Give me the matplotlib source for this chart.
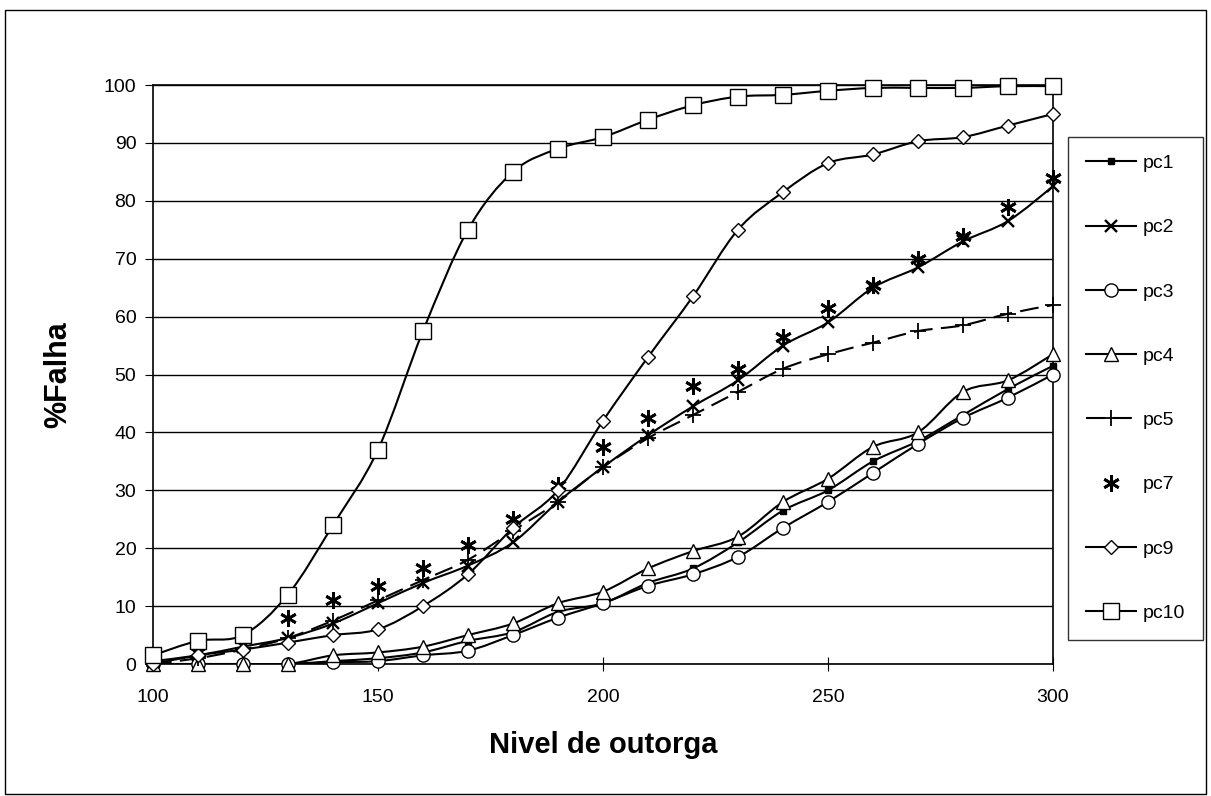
import matplotlib
matplotlib.use("Agg")
import matplotlib.pyplot as plt
from matplotlib.path import Path
from matplotlib.patches import PathPatch, Rectangle
from matplotlib.lines import Line2D
import numpy as np

plt.rcParams['font.family'] = ['Liberation Sans', 'DejaVu Sans']

nivel = [100, 110, 120, 130, 140, 150, 160, 170, 180, 190, 200,
         210, 220, 230, 240, 250, 260, 270, 280, 290, 300]

pc1 = [0, 0, 0, 0, 0.5, 1, 2, 4, 5.5, 9, 10.5,
       14, 16.5, 21, 26.5, 30, 35, 38.5, 43, 47.5, 51.5]
pc2 = [0.5, 1.5, 3, 4.5, 7, 10.5, 14, 17, 21, 28, 34,
       39.5, 44.5, 49, 55, 59, 65, 68.5, 73, 76.5, 82.5]
pc3 = [0, 0, 0, 0, 0.3, 0.5, 1.5, 2.3, 5, 8, 10.5,
       13.5, 15.5, 18.5, 23.5, 28, 33, 38, 42.5, 46, 50]
pc4 = [0, 0, 0, 0, 1.5, 2, 3, 5, 7, 10.5, 12.5,
       16.5, 19.5, 22, 28, 32, 37.5, 40, 47, 49, 53.5]
pc5 = [0, 1, 2.5, 4.5, 7.5, 11, 14.5, 18, 23, 28, 34,
       39, 43, 47, 51, 53.5, 55.5, 57.5, 58.5, 60.5, 62]
pc7 = [1, 2, 4.5, 8, 11, 13.5, 16.5, 20.5, 25, 31, 37.5,
       42.5, 48, 51, 56.5, 61.5, 65.5, 70, 74, 79, 84]
pc9 = [0, 1.5, 2.5, 3.7, 5, 6, 10, 15.5, 23.5, 30, 42,
       53, 63.5, 75, 81.5, 86.5, 88, 90.3, 91, 93, 95]
pc10 = [1.5, 4, 5, 12, 24, 37, 57.5, 75, 85, 89, 91,
        94, 96.5, 98, 98.3, 99, 99.5, 99.5, 99.5, 99.8, 99.8]


def curva_suave(x, y):
    # curva tipo "suavizada" do Excel (Bezier cubica)
    p = np.column_stack([x, y]).astype(float)
    n = len(p)
    verts = [p[0]]
    codes = [Path.MOVETO]
    for i in range(n - 1):
        p0 = p[i - 1] if i > 0 else p[i]
        p1 = p[i]
        p2 = p[i + 1]
        p3 = p[i + 2] if i + 2 < n else p[i + 1]
        verts += [p1 + (p2 - p0) / 6, p2 - (p3 - p1) / 6, p2]
        codes += [Path.CURVE4] * 3
    return Path(verts, codes)


fig = plt.figure(figsize=(12.11, 7.96), dpi=100)
ax = fig.add_axes([0.1263, 0.1658, 0.7432, 0.7274])

lw = 1.5
series = [
    ('pc1', pc1, dict(marker='s', markersize=4, markerfacecolor='black'), '-'),
    ('pc2', pc2, dict(marker='x', markersize=9, markeredgewidth=1.7), '-'),
    ('pc3', pc3, dict(marker='o', markersize=9.5, markerfacecolor='white'), '-'),
    ('pc4', pc4, dict(marker='^', markersize=10, markerfacecolor='white'), '-'),
    ('pc5', pc5, dict(marker='+', markersize=11, markeredgewidth=1.3), (0, (9, 4))),
    ('pc7', pc7, dict(marker=(6, 2, 0), markersize=12, markeredgewidth=2.0), None),
    ('pc9', pc9, dict(marker='D', markersize=7, markerfacecolor='white'), '-'),
    ('pc10', pc10, dict(marker='s', markersize=11, markerfacecolor='white'), '-'),
]

handles = []
for nome, vals, mk, ls in series:
    if ls is not None:
        ax.add_patch(PathPatch(curva_suave(nivel, vals), facecolor='none',
                               edgecolor='black', lw=lw, linestyle=ls, zorder=3))
    ax.plot(nivel, vals, linestyle='none', color='black',
            markeredgecolor='black', zorder=4, clip_on=False, **mk)
    handles.append(Line2D([], [], color='black', lw=lw,
                          linestyle=ls if ls is not None else 'none',
                          markeredgecolor='black', label=nome, **mk))

ax.set_xlim(100, 300)
ax.set_ylim(0, 100)
ax.set_xticks([100, 150, 200, 250, 300])
ax.set_yticks(range(0, 101, 10))
ax.yaxis.grid(True, color='black', lw=1.0)
ax.set_axisbelow(True)
for s in ax.spines.values():
    s.set_color('black')
    s.set_linewidth(1.2)
ax.tick_params(axis='y', direction='out', length=6, pad=6, labelsize=14)
ax.tick_params(axis='x', direction='inout', length=10, pad=13, labelsize=14)

ax.set_xlabel('Nivel de outorga', fontsize=21, fontweight='bold', labelpad=18)
ax.set_ylabel('%Falha', fontsize=22, fontweight='bold', labelpad=22)

leg = fig.legend(handles=handles, loc='upper left',
                 bbox_to_anchor=(1068 / 1211, 1 - 137 / 796),
                 fontsize=14, frameon=True, fancybox=False,
                 edgecolor='black', handlelength=2.6, labelspacing=2.4,
                 borderpad=0.9, handletextpad=0.35, borderaxespad=0)
leg.get_frame().set_linewidth(1.0)

fig.patches.append(Rectangle((5 / 1211, 0.002), 1201 / 1211, 1 - 10 / 796 - 0.002,
                             transform=fig.transFigure, fill=False,
                             edgecolor='black', lw=1.0))

fig.savefig('out.png', dpi=100)
